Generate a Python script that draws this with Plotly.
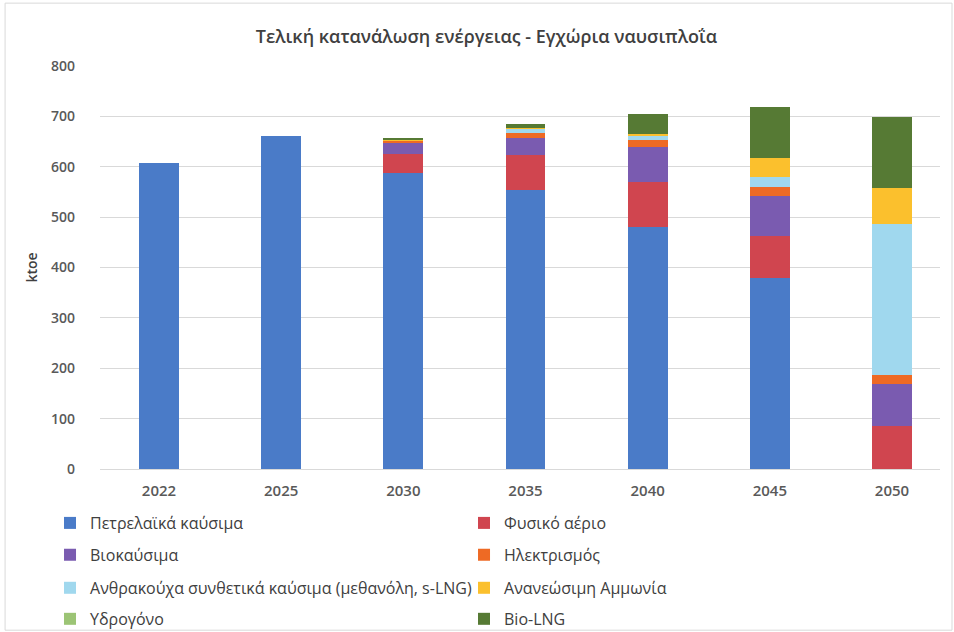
import plotly.graph_objects as go

# Years on the category axis
years = ["2022", "2025", "2030", "2035", "2040", "2045", "2050"]

# Final energy consumption by fuel (ktoe)
petroleum = [607, 661, 587, 554, 481, 380, 0]
natural_gas = [0, 0, 39, 69, 89, 83, 85]
biofuels = [0, 0, 22, 35, 70, 79, 83]
electricity = [0, 0, 5, 10, 13, 17, 18]
synthetic = [0, 0, 0, 8, 10, 20, 300]
ammonia = [0, 0, 1, 1, 3, 39, 72]
hydrogen = [0, 0, 0, 0, 0, 0, 0]
bio_lng = [0, 0, 3, 7, 38, 100, 141]

series = [
    ("Πετρελαϊκά καύσιμα", petroleum, "#4A7BC8", "legend"),
    ("Φυσικό αέριο", natural_gas, "#D0454F", "legend"),
    ("Βιοκαύσιμα", biofuels, "#7A5BB0", "legend2"),
    ("Ηλεκτρισμός", electricity, "#EE6A24", "legend2"),
    ("Ανθρακούχα συνθετικά καύσιμα (μεθανόλη, s-LNG)", synthetic, "#A0D8EE", "legend3"),
    ("Ανανεώσιμη Αμμωνία", ammonia, "#FBC02D", "legend3"),
    ("Υδρογόνο", hydrogen, "#9CC475", "legend4"),
    ("Bio-LNG", bio_lng, "#567A34", "legend4"),
]

fig = go.Figure()
for name, vals, color, leg in series:
    fig.add_trace(go.Bar(
        x=list(range(len(years))), y=vals, name=name,
        marker=dict(color=color, line=dict(width=0)),
        legend=leg,
    ))

font_family = "Open Sans, Noto Sans, sans-serif"
legend_common = dict(
    orientation="h", x=-0.0595, xanchor="left", yanchor="middle",
    entrywidth=369, entrywidthmode="pixels",
    font=dict(family=font_family, size=16, color="#404040"),
    bgcolor="rgba(0,0,0,0)", traceorder="normal",
)
rows_y = [-0.134, -0.213, -0.295, -0.372]

fig.update_layout(
    width=954, height=632,
    margin=dict(l=100, r=14, t=66, b=163, autoexpand=False),
    paper_bgcolor="white", plot_bgcolor="white",
    barmode="stack", bargap=0.673,
    title=dict(
        text="Τελική κατανάλωση ενέργειας - Εγχώρια ναυσιπλοΐα",
        x=0.46, xref="paper", xanchor="center", y=0.942, yanchor="middle",
        font=dict(family=font_family, size=18, color="#404040", weight=600),
    ),
    xaxis=dict(
        tickmode="array", tickvals=list(range(len(years))), ticktext=years,
        range=[-0.483, 6.393], showgrid=False, zeroline=False,
        showline=True, linecolor="#D9D9D9", linewidth=1,
        tickfont=dict(family=font_family, size=15, color="#595959", weight=600),
        ticks="", ticklabelstandoff=8,
    ),
    yaxis=dict(
        range=[0, 800], dtick=100, showgrid=True, gridcolor="#D9D9D9",
        gridwidth=1, zeroline=False, showline=False, ticks="",
        tickfont=dict(family=font_family, size=14, color="#595959", weight=600),
        ticklabelstandoff=24,
        title=dict(text="ktoe", standoff=10,
                   font=dict(family=font_family, size=14, color="#404040", weight=600)),
    ),
    legend=dict(legend_common, y=rows_y[0]),
    legend2=dict(legend_common, y=rows_y[1]),
    legend3=dict(legend_common, y=rows_y[2]),
    legend4=dict(legend_common, y=rows_y[3]),
    shapes=[dict(type="rect", xref="paper", yref="paper",
                 x0=-0.113, x1=1.0143, y0=-0.4, y1=1.156,
                 line=dict(color="#D9D9D9", width=1), layer="below")],
)

fig.write_html("out.html")
